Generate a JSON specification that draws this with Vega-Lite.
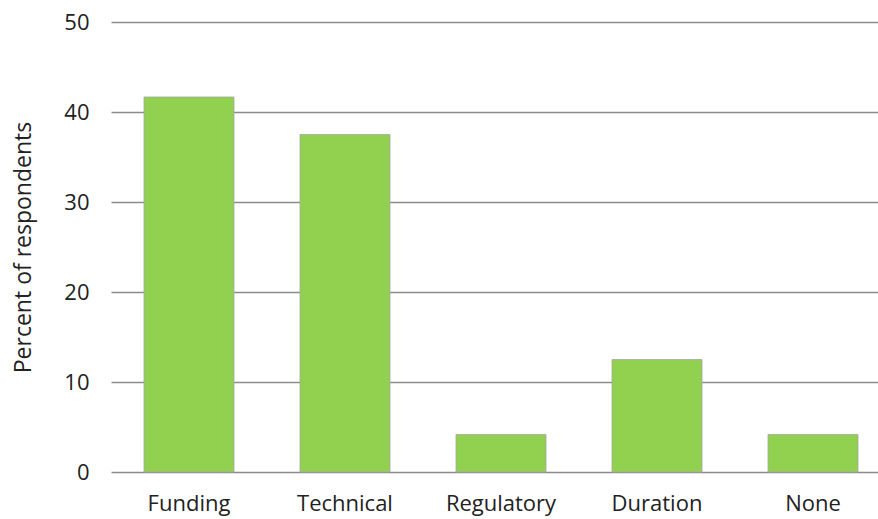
{
  "$schema": "https://vega.github.io/schema/vega-lite/v6.json",
  "autosize": "none",
  "padding": {"left": 111, "top": 22, "right": 0, "bottom": 47},
  "width": 780,
  "height": 450,
  "background": "white",
  "data": {"values": [
    {"category": "Funding", "percent": 41.67},
    {"category": "Technical", "percent": 37.5},
    {"category": "Regulatory", "percent": 4.17},
    {"category": "Duration", "percent": 12.5},
    {"category": "None", "percent": 4.17}
  ]},
  "config": {
    "view": {"stroke": null},
    "font": "Open Sans"
  },
  "mark": {"type": "bar", "color": "#92d050", "stroke": "#a6a6a6", "strokeWidth": 0.8},
  "encoding": {
    "x": {
      "field": "category", "type": "nominal", "sort": null,
      "scale": {"paddingInner": 0.423, "paddingOuter": 0.2115},
      "axis": {"title": null, "labelAngle": 0, "labelFontSize": 22, "labelColor": "#222222", "labelPadding": 21, "domain": false, "ticks": false, "labelFont": "Open Sans"}
    },
    "y": {
      "field": "percent", "type": "quantitative",
      "scale": {"domain": [0, 50]},
      "axis": {"values": [0, 10, 20, 30, 40, 50], "title": "Percent of respondents", "titleFontSize": 23, "titleFontWeight": "normal", "titleColor": "#222222", "titlePadding": 28, "labelFontSize": 22, "labelColor": "#222222", "labelPadding": 22, "domain": false, "ticks": false, "grid": true, "gridColor": "#8c8c8c", "gridWidth": 1.6, "labelFont": "Open Sans", "titleFont": "Open Sans"}
    }
  }
}
